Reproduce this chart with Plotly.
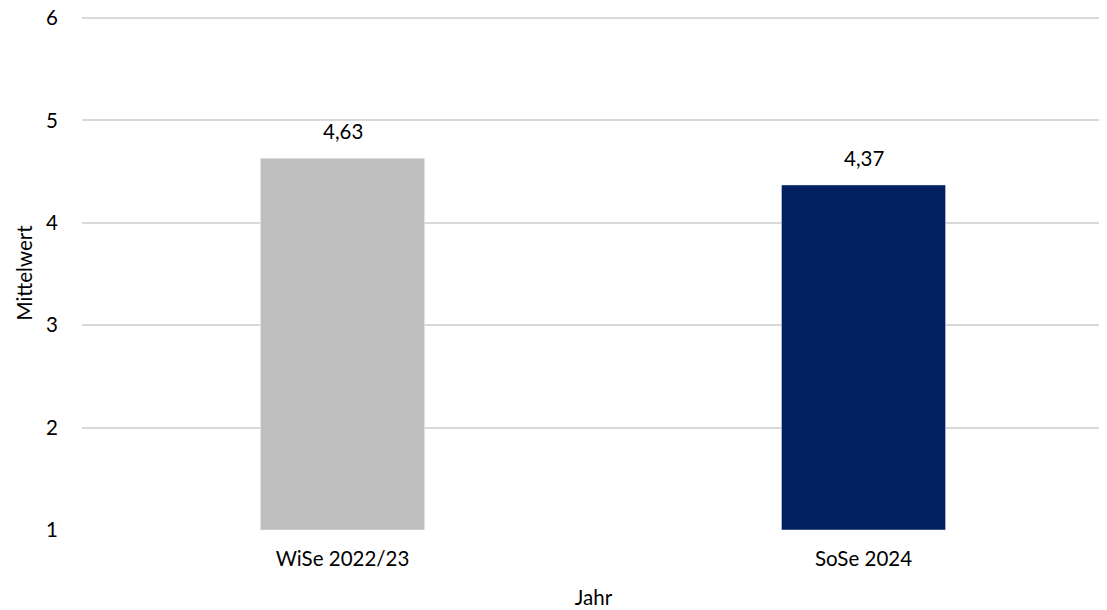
import plotly.graph_objects as go

categories = ["WiSe 2022/23", "SoSe 2024"]
values = [4.63, 4.37]
colors = ["#BFBFBF", "#002060"]
y_ticks = [1, 2, 3, 4, 5, 6]
axis_min = 1

FONT = "Lato"
FS = 20.5

fig = go.Figure()
fig.add_trace(go.Bar(
    x=categories, y=[v - axis_min for v in values], base=axis_min,
    marker_color=colors, width=0.315, hoverinfo="skip",
))

for c, v in zip(categories, values):
    fig.add_annotation(x=c, y=v, text=f"{v:.2f}".replace(".", ","), showarrow=False,
                       yanchor="bottom", yshift=13, font=dict(family=FONT, size=FS, color="#000000"))

# page body has an 8px margin: figure is sized to fit the 1107x610 window
fig.update_layout(
    width=1099, height=602,
    margin=dict(l=74, r=2, t=8, b=80),
    plot_bgcolor="white", paper_bgcolor="white",
    font=dict(family=FONT, size=FS, color="#000000"),
    showlegend=False,
    xaxis=dict(range=[-0.5, 1.4635], showgrid=False, showline=False, zeroline=False,
               ticks="", ticklabelstandoff=14, automargin=False,
               title=dict(text="Jahr", standoff=22, font=dict(family=FONT, size=FS))),
    yaxis=dict(range=[1, 6.02], tickvals=y_ticks, showgrid=True, gridcolor="#D9D9D9", gridwidth=1.5,
               zeroline=False, showline=False, ticks="", ticklabelstandoff=23, automargin=False,
               ticklabeloverflow="allow",
               title=dict(text="Mittelwert", standoff=7, font=dict(family=FONT, size=FS))),
)

fig.write_html("out.html")
